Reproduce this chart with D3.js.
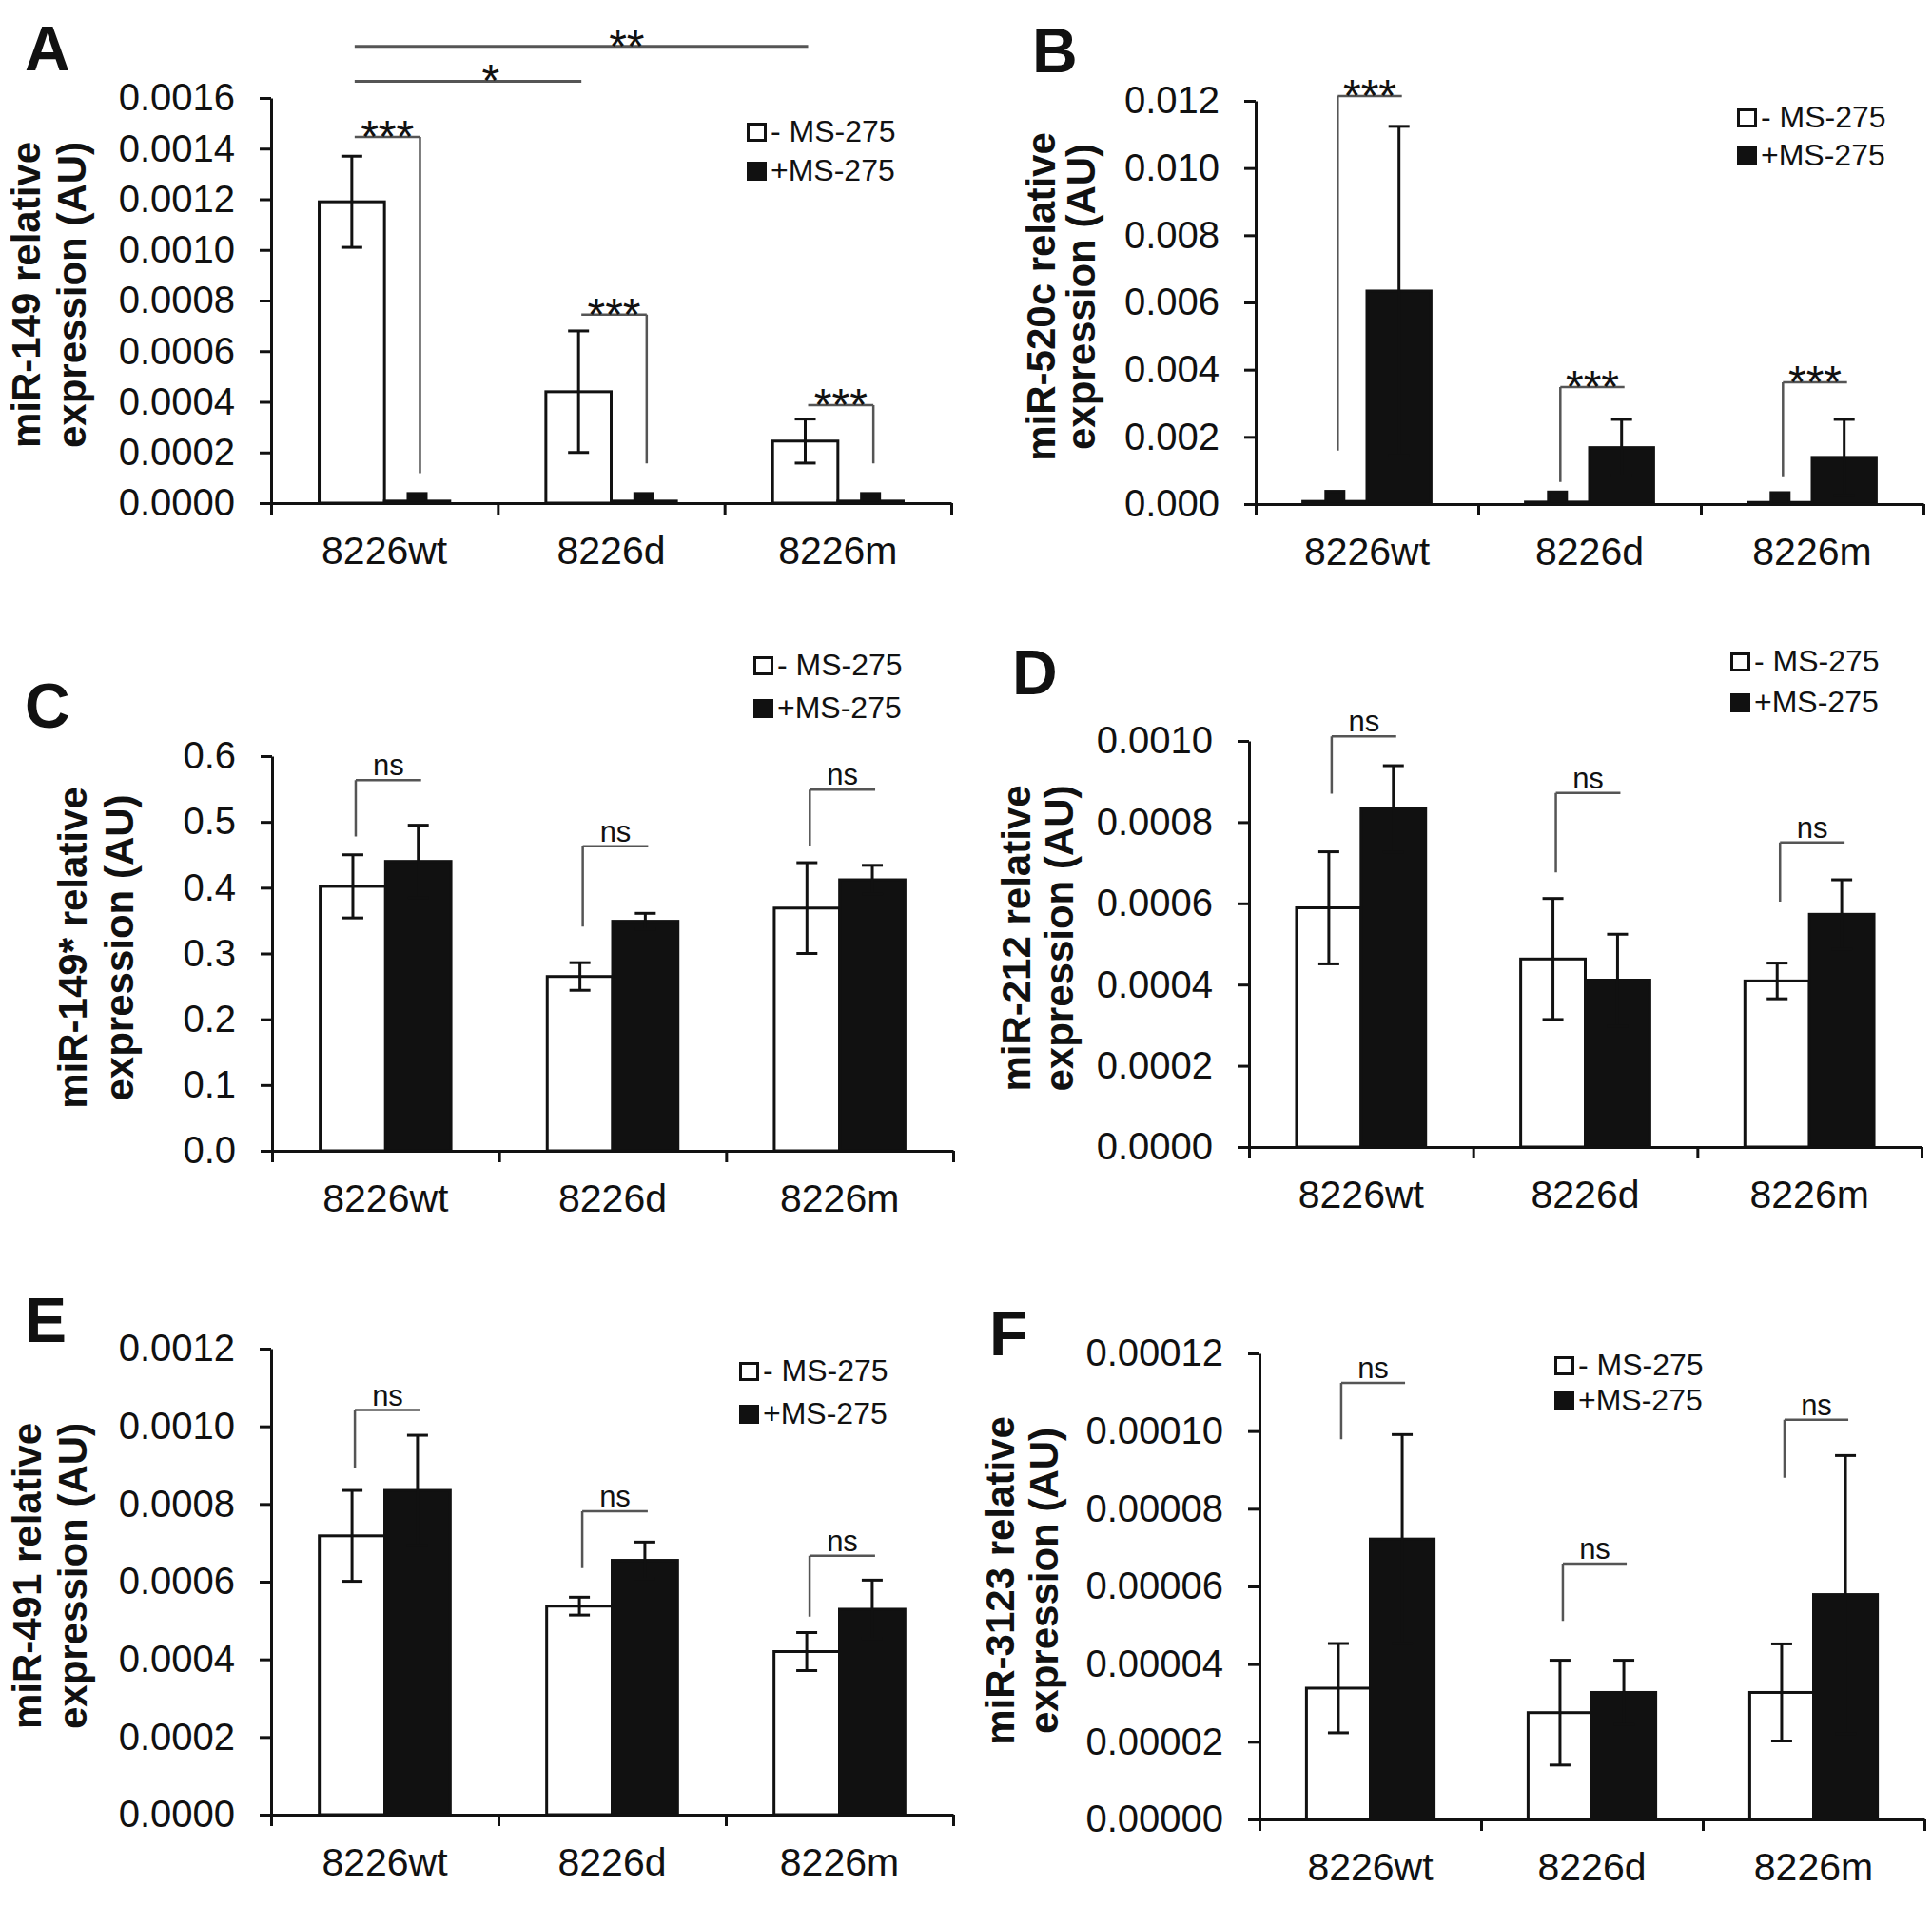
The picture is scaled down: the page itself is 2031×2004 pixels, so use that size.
<!DOCTYPE html>
<html>
<head>
<meta charset="utf-8">
<script src="https://cdn.jsdelivr.net/npm/d3@7"></script>
<style>
  html, body { margin: 0; padding: 0; background: #fff; }
  svg { display: block; font-family: "Liberation Sans", Arial, sans-serif; }
</style>
</head>
<body>
<div id="figure"></div>
<script>
// ---- data ----
const categories = ['8226wt', '8226d', '8226m'];
const seriesNames = ['- MS-275', '+MS-275'];

// A: miR-149
const a_minus = [0.00119, 0.00044, 0.000245];
const a_minusErr = [0.00018, 0.00024, 0.000087];
const a_plus = [0.000008, 0.000008, 0.000008];
const a_plusErr = [0.00003, 0.00003, 0.00003];
const a_ticks = [0, 0.0002, 0.0004, 0.0006, 0.0008, 0.0010, 0.0012, 0.0014, 0.0016];

// B: miR-520c
const b_minus = [0.00008, 0.00006, 0.00005];
const b_minusErr = [0.0003, 0.0003, 0.00029];
const b_plus = [0.00634, 0.00168, 0.00139];
const b_plusErr = [0.0049, 0.00084, 0.00113];
const b_ticks = [0, 0.002, 0.004, 0.006, 0.008, 0.010, 0.012];

// C: miR-149*
const c_minus = [0.402, 0.265, 0.369];
const c_minusErr = [0.048, 0.021, 0.069];
const c_plus = [0.440, 0.349, 0.412];
const c_plusErr = [0.055, 0.012, 0.022];
const c_ticks = [0, 0.1, 0.2, 0.3, 0.4, 0.5, 0.6];

// D: miR-212
const d_minus = [0.000589, 0.000463, 0.000409];
const d_minusErr = [0.000138, 0.000149, 0.000044];
const d_plus = [0.000833, 0.000411, 0.000573];
const d_plusErr = [0.000106, 0.000113, 0.000085];
const d_ticks = [0, 0.0002, 0.0004, 0.0006, 0.0008, 0.0010];

// E: miR-491
const e_minus = [0.000718, 0.000537, 0.00042];
const e_minusErr = [0.000117, 0.000023, 0.000049];
const e_plus = [0.000835, 0.000655, 0.000529];
const e_plusErr = [0.000142, 0.000047, 0.000075];
const e_ticks = [0, 0.0002, 0.0004, 0.0006, 0.0008, 0.0010, 0.0012];

// F: miR-3123
const f_minus = [0.0000338, 0.0000275, 0.0000327];
const f_minusErr = [0.0000115, 0.0000135, 0.0000125];
const f_plus = [0.0000722, 0.0000327, 0.0000579];
const f_plusErr = [0.0000269, 0.0000083, 0.0000358];
const f_ticks = [0, 0.00002, 0.00004, 0.00006, 0.00008, 0.00010, 0.00012];

// significance brackets: group, bracket height, end of the drop line, side of the drop
const a_sig = [
    { g: 0, h: 0.001446, drop: 0.000118, side: 'right', label: '***' },
    { g: 1, h: 0.000745, drop: 0.000157, side: 'right', label: '***' },
    { g: 2, h: 0.000387, drop: 0.000157, side: 'right', label: '***' }
];
const a_cross = [
    { from: 0, to: 1, h: 0.001666, label: '*' },
    { from: 0, to: 2, h: 0.001804, label: '**' }
];
const b_sig = [
    { g: 0, h: 0.01214, drop: 0.00159, side: 'left', label: '***' },
    { g: 1, h: 0.00348, drop: 0.00066, side: 'left', label: '***' },
    { g: 2, h: 0.00362, drop: 0.00083, side: 'left', label: '***' }
];
const c_sig = [
    { g: 0, h: 0.5634, drop: 0.478, side: 'left', label: 'ns' },
    { g: 1, h: 0.463, drop: 0.341, side: 'left', label: 'ns' },
    { g: 2, h: 0.549, drop: 0.463, side: 'left', label: 'ns' }
];
const d_sig = [
    { g: 0, h: 0.001011, drop: 0.00087, side: 'left', label: 'ns' },
    { g: 1, h: 0.000872, drop: 0.000676, side: 'left', label: 'ns' },
    { g: 2, h: 0.00075, drop: 0.000604, side: 'left', label: 'ns' }
];
const e_sig = [
    { g: 0, h: 0.001042, drop: 0.000894, side: 'left', label: 'ns' },
    { g: 1, h: 0.000781, drop: 0.000635, side: 'left', label: 'ns' },
    { g: 2, h: 0.000667, drop: 0.00051, side: 'left', label: 'ns' }
];
const f_sig = [
    { g: 0, h: 0.0001124, drop: 0.0000979, side: 'left', label: 'ns' },
    { g: 1, h: 0.0000659, drop: 0.0000511, side: 'left', label: 'ns' },
    { g: 2, h: 0.0001029, drop: 0.000088, side: 'left', label: 'ns' }
];

// ---- panel layout ----
const panels = [
    { letter: 'A', lx: 26, ly: 74, title: ['miR-149 relative', 'expression (AU)'], tx: [42, 90],
      x0: 285, x1: 1000, y0: 529, yTop: 103, ticks: a_ticks, dec: 4,
      minus: a_minus, minusErr: a_minusErr, plus: a_plus, plusErr: a_plusErr,
      sig: a_sig, cross: a_cross, legend: { x: 785, y: 149, gap: 41 } },
    { letter: 'B', lx: 1085, ly: 76, title: ['miR-520c relative', 'expression (AU)'], tx: [1109, 1151],
      x0: 1320, x1: 2022, y0: 530, yTop: 106, ticks: b_ticks, dec: 3,
      minus: b_minus, minusErr: b_minusErr, plus: b_plus, plusErr: b_plusErr,
      sig: b_sig, cross: [], legend: { x: 1826, y: 134, gap: 40 } },
    { letter: 'C', lx: 26, ly: 765, title: ['miR-149* relative', 'expression (AU)'], tx: [91, 140],
      x0: 286, x1: 1002, y0: 1210, yTop: 795, ticks: c_ticks, dec: 1,
      minus: c_minus, minusErr: c_minusErr, plus: c_plus, plusErr: c_plusErr,
      sig: c_sig, cross: [], legend: { x: 792, y: 710, gap: 45 } },
    { letter: 'D', lx: 1064, ly: 730, title: ['miR-212 relative', 'expression (AU)'], tx: [1083, 1128],
      x0: 1313, x1: 2020, y0: 1206, yTop: 779, ticks: d_ticks, dec: 4,
      minus: d_minus, minusErr: d_minusErr, plus: d_plus, plusErr: d_plusErr,
      sig: d_sig, cross: [], legend: { x: 1819, y: 706, gap: 43 } },
    { letter: 'E', lx: 26, ly: 1411, title: ['miR-491 relative', 'expression (AU)'], tx: [43, 91],
      x0: 285, x1: 1002, y0: 1908, yTop: 1418, ticks: e_ticks, dec: 4,
      minus: e_minus, minusErr: e_minusErr, plus: e_plus, plusErr: e_plusErr,
      sig: e_sig, cross: [], legend: { x: 777, y: 1452, gap: 45 } },
    { letter: 'F', lx: 1040, ly: 1425, title: ['miR-3123 relative', 'expression (AU)'], tx: [1066, 1112],
      x0: 1324, x1: 2023, y0: 1913, yTop: 1423, ticks: f_ticks, dec: 5,
      minus: f_minus, minusErr: f_minusErr, plus: f_plus, plusErr: f_plusErr,
      sig: f_sig, cross: [], legend: { x: 1634, y: 1446, gap: 37 } }
];

const W = 2031, H = 2004;
const INK = '#111';
const GREY = '#555';

const svg = d3.select('#figure')
    .append('svg')
    .attr('width', W)
    .attr('height', H)
    .attr('viewBox', [0, 0, W, H]);

svg.append('rect').attr('width', W).attr('height', H).attr('fill', '#fff');

panels.forEach(drawPanel);

function drawPanel(p) {
    const g = svg.append('g');
    const yMax = p.ticks[p.ticks.length - 1];

    const y = d3.scaleLinear().domain([0, yMax]).range([p.y0, p.yTop]);
    const xGroup = d3.scaleBand().domain(d3.range(categories.length)).range([p.x0, p.x1]).padding(0);
    const xEdge = d3.scaleLinear().domain([0, categories.length]).range([p.x0, p.x1]);
    const barW = xGroup.bandwidth() * 0.288;
    const center = i => xGroup(i) + xGroup.bandwidth() / 2;
    const barX = (i, s) => center(i) + (s === 0 ? -barW : 0);
    const barMid = (i, s) => barX(i, s) + barW / 2;

    // panel letter
    g.append('text')
        .attr('x', p.lx).attr('y', p.ly)
        .attr('font-size', 66).attr('font-weight', 'bold').attr('fill', INK)
        .text(p.letter);

    // y title, two lines
    const midY = (p.y0 + p.yTop) / 2 - 6;
    p.title.forEach((line, k) => {
        g.append('text')
            .attr('transform', `translate(${p.tx[k]},${midY}) rotate(-90)`)
            .attr('text-anchor', 'middle')
            .attr('font-size', 42).attr('font-weight', 'bold').attr('fill', INK)
            .text(line);
    });

    // bars
    const series = [
        { vals: p.minus, errs: p.minusErr, fill: '#fff' },
        { vals: p.plus, errs: p.plusErr, fill: INK }
    ];
    series.forEach((s, si) => {
        g.append('g').selectAll('rect')
            .data(s.vals)
            .join('rect')
            .attr('x', (d, i) => barX(i, si))
            .attr('width', barW)
            .attr('y', d => y(d))
            .attr('height', d => Math.max(0.5, y(0) - y(d)))
            .attr('fill', s.fill)
            .attr('stroke', INK)
            .attr('stroke-width', 3);
    });

    // error bars (very short ones merge into a small block, as in the print)
    const cap = 22;
    series.forEach((s, si) => {
        const eg = g.append('g').attr('stroke', INK).attr('stroke-width', 3).attr('fill', 'none');
        s.vals.forEach((v, i) => {
            const cx = barMid(i, si);
            const hi = y(v + s.errs[i]);
            const lo = y(Math.max(0, v - s.errs[i]));
            if (lo - hi < 16) {
                eg.append('rect')
                    .attr('x', cx - cap / 2 + 1.5).attr('width', cap - 3)
                    .attr('y', hi).attr('height', lo - hi)
                    .attr('fill', INK);
                return;
            }
            eg.append('line').attr('x1', cx).attr('x2', cx).attr('y1', hi).attr('y2', lo);
            eg.append('line').attr('x1', cx - cap / 2).attr('x2', cx + cap / 2).attr('y1', hi).attr('y2', hi);
            eg.append('line').attr('x1', cx - cap / 2).attr('x2', cx + cap / 2).attr('y1', lo).attr('y2', lo);
        });
    });

    // axes
    const yAxis = d3.axisLeft(y)
        .tickValues(p.ticks)
        .tickFormat(d3.format(`.${p.dec}f`))
        .tickSize(12)
        .tickSizeOuter(0)
        .tickPadding(26);
    const ya = g.append('g').attr('transform', `translate(${p.x0},0)`).call(yAxis);
    ya.select('.domain').attr('stroke', INK).attr('stroke-width', 3);
    ya.selectAll('.tick line').attr('stroke', INK).attr('stroke-width', 3);
    ya.selectAll('.tick text')
        .attr('font-size', 40).attr('fill', INK)
        .attr('font-family', '"Liberation Sans", Arial, sans-serif');

    const xAxis = d3.axisBottom(xEdge)
        .tickValues(d3.range(categories.length + 1))
        .tickFormat('')
        .tickSize(12)
        .tickSizeOuter(0);
    const xa = g.append('g').attr('transform', `translate(0,${p.y0})`).call(xAxis);
    xa.select('.domain').attr('stroke', INK).attr('stroke-width', 3);
    xa.selectAll('.tick line').attr('stroke', INK).attr('stroke-width', 3);

    g.append('g').selectAll('text')
        .data(categories)
        .join('text')
        .attr('x', (d, i) => center(i))
        .attr('y', p.y0 + 64)
        .attr('text-anchor', 'middle')
        .attr('font-size', 41).attr('fill', INK)
        .text(d => d);

    // significance brackets
    const sg = g.append('g');
    p.sig.forEach(b => {
        const xl = barMid(b.g, 0) + 3;
        const xr = barMid(b.g, 1) + 3;
        const yh = y(b.h);
        const xd = b.side === 'left' ? xl : xr;
        sg.append('path')
            .attr('d', `M${xl},${yh}H${xr}M${xd},${yh}V${y(b.drop)}`)
            .attr('fill', 'none').attr('stroke', GREY).attr('stroke-width', 2.5);
        sigLabel(sg, (xl + xr) / 2, yh, b.label);
    });
    p.cross.forEach(b => {
        const xl = barMid(b.from, 0) + 3;
        const xr = barMid(b.to, 0) + 3;
        const yh = y(b.h);
        sg.append('line')
            .attr('x1', xl).attr('x2', xr).attr('y1', yh).attr('y2', yh)
            .attr('stroke', GREY).attr('stroke-width', 3);
        sigLabel(sg, xl + (xr - xl) * 0.6, yh, b.label);
    });

    // legend
    const lg = g.append('g').attr('transform', `translate(${p.legend.x},${p.legend.y})`);
    seriesNames.forEach((name, k) => {
        const row = lg.append('g').attr('transform', `translate(0,${k * p.legend.gap})`);
        row.append('rect')
            .attr('x', 1.5).attr('y', -18.5)
            .attr('width', 18).attr('height', 17)
            .attr('fill', k === 0 ? '#fff' : INK)
            .attr('stroke', INK).attr('stroke-width', 3);
        row.append('text')
            .attr('x', 25).attr('y', 0)
            .attr('font-size', 32).attr('fill', INK)
            .text(name);
    });
}

function sigLabel(sel, x, yLine, label) {
    const isStars = label.indexOf('*') >= 0;
    sel.append('text')
        .attr('x', x)
        .attr('y', isStars ? yLine + 16 : yLine - 5)
        .attr('text-anchor', 'middle')
        .attr('font-size', isStars ? 48 : 31)
        .attr('fill', INK)
        .text(label);
}
</script>
</body>
</html>
